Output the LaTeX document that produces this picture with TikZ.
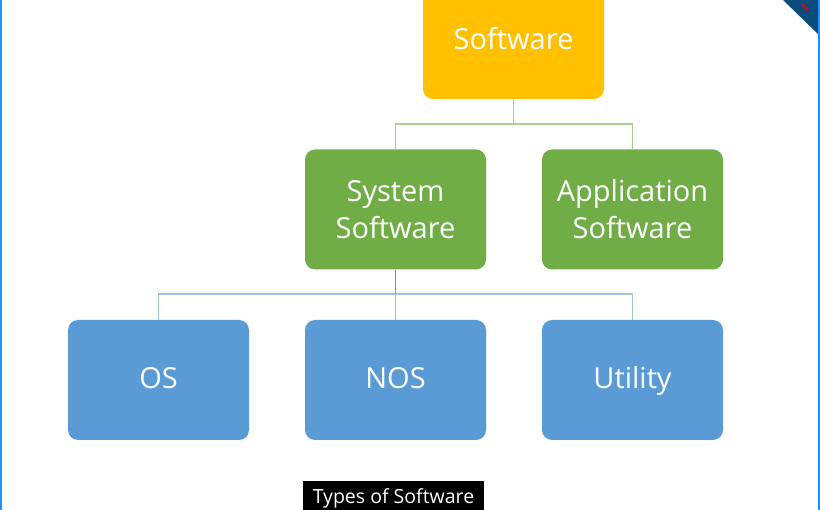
\documentclass[tikz,border=0pt]{standalone}
\usepackage{fontspec}
\setmainfont{Open Sans}
\definecolor{swgold}{HTML}{FFC000}
\definecolor{swgreen}{HTML}{70AD47}
\definecolor{swblue}{HTML}{5B9BD5}
\definecolor{lnkgreen}{HTML}{A9D18E}
\definecolor{lnkblue}{HTML}{9DC3E6}
\definecolor{edgeblue}{HTML}{1E90FF}
\definecolor{ribbon}{HTML}{0B4C7C}
\tikzset{swbox/.style={rectangle,rounded corners=10pt,minimum width=181pt,minimum height=120pt,
  align=center,text=white,inner sep=0pt,font=\fontsize{29}{37}\selectfont}}
\tikzset{leafbox/.style={swbox,fill=swblue,text height=21pt,text depth=3pt}}
\tikzset{greenlink/.style={draw=lnkgreen,line width=1.2pt}}
\tikzset{bluelink/.style={draw=lnkblue,line width=1.2pt}}

\begin{document}
\begin{tikzpicture}[x=1pt,y=-1pt]
\useasboundingbox (0,0) rectangle (820,510);
\clip (0,0) rectangle (820,510);
\fill[white] (0,0) rectangle (820,510);
\node (sw) at (513.5,39) [swbox,fill=swgold] {Software};
\node (sys) at (395.5,209.5) [swbox,fill=swgreen] {System\\Software};
\node (app) at (632.5,209.5) [swbox,fill=swgreen] {Application\\Software};
\node (os) at (158.5,380) [leafbox] {OS};
\node (nos) at (395.5,380) [leafbox] {NOS};
\node (util) at (632.5,380) [leafbox] {Utility};
\coordinate (j1) at (513.5,124);
\coordinate (j2) at (395.5,294);
\draw[greenlink] (sw.south)--(j1) -| (sys.north) (j1) -| (app.north);
\draw[bluelink] (j2) -| (os.north) (j2) -| (util.north) (j2)--(nos.north);
\draw[draw=swblue,line width=1.2pt] (sys.south)--(j2);
\node (cap) at (393.5,481) [anchor=north,fill=black,text=white,minimum width=181pt,minimum height=34pt,
  inner sep=0pt,font=\fontsize{19.5}{22}\selectfont] {Types of Software};
\fill[ribbon] (783,0)--(819,35)--(819,0)--cycle;
\node (tag) at (805,8) [rotate=-45,text=red,inner sep=0pt,font=\bfseries\fontsize{7}{7}\selectfont] {es};
\draw[edgeblue,line width=2pt] (1,0)--(1,510) (818.5,0)--(818.5,510);
\end{tikzpicture}
\end{document}
